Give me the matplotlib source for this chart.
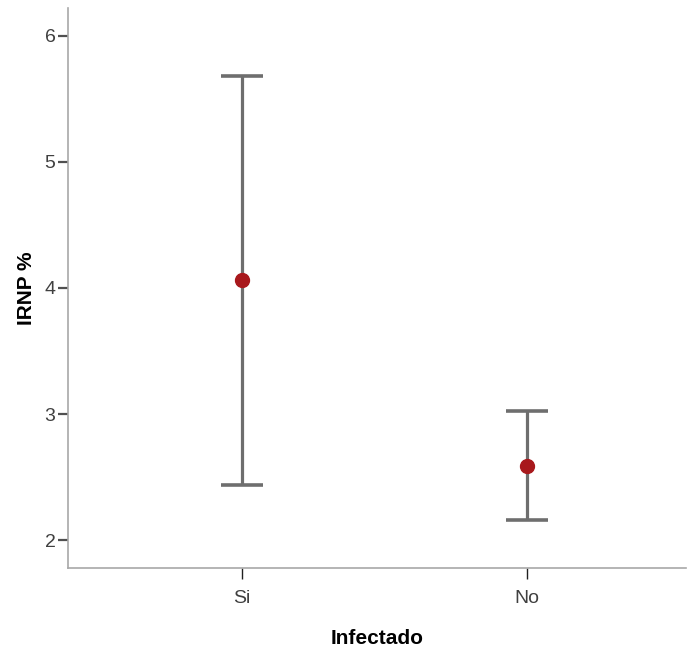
import matplotlib
matplotlib.use("Agg")
import matplotlib.pyplot as plt
import numpy as np

# Error bar chart data (mean with 95% CI)
categories = ["Si", "No"]
means = [4.06, 2.59]
ci_lower = [2.44, 2.16]
ci_upper = [5.68, 3.02]
y_ticks = [2, 3, 4, 5, 6]

FONT = ["Liberation Sans Narrow", "Liberation Sans", "DejaVu Sans"]
plt.rcParams["font.family"] = FONT

fig = plt.figure(figsize=(6.91, 6.52), dpi=100, facecolor="white")
ax = fig.add_axes([68 / 691, 1 - 568 / 652, 618 / 691, 560 / 652])

x = np.arange(len(categories))
means_a = np.array(means)
yerr = np.vstack([means_a - np.array(ci_lower), np.array(ci_upper) - means_a])

ax.errorbar(x, means_a, yerr=yerr, fmt="none", ecolor="#6e6e6e",
            elinewidth=2.3, capsize=15, capthick=2.6, zorder=2)
ax.plot(x, means_a, "o", color="#a8181c", markersize=10, zorder=3)

ax.set_xlim(-0.6105, 1.558)
ax.set_ylim(1.778, 6.222)
ax.set_xticks(x)
ax.set_xticklabels(categories)
ax.set_yticks(y_ticks)

for side in ["top", "right"]:
    ax.spines[side].set_visible(False)
for side in ["left", "bottom"]:
    ax.spines[side].set_color("#a8a8a8")
    ax.spines[side].set_linewidth(1.2)

ax.tick_params(axis="y", direction="out", length=7, width=1.6, color="#505050",
               labelsize=14, labelcolor="#404040", pad=2)
ax.tick_params(axis="x", direction="out", length=8, width=1.0, color="#202020",
               labelsize=14, labelcolor="#404040", pad=8)

ax.set_xlabel("Infectado", fontsize=15, fontweight="bold", color="black", labelpad=16)
ax.set_ylabel("IRNP %", fontsize=15, fontweight="bold", color="black", labelpad=6)

fig.savefig("out.png", dpi=100, facecolor="white")
